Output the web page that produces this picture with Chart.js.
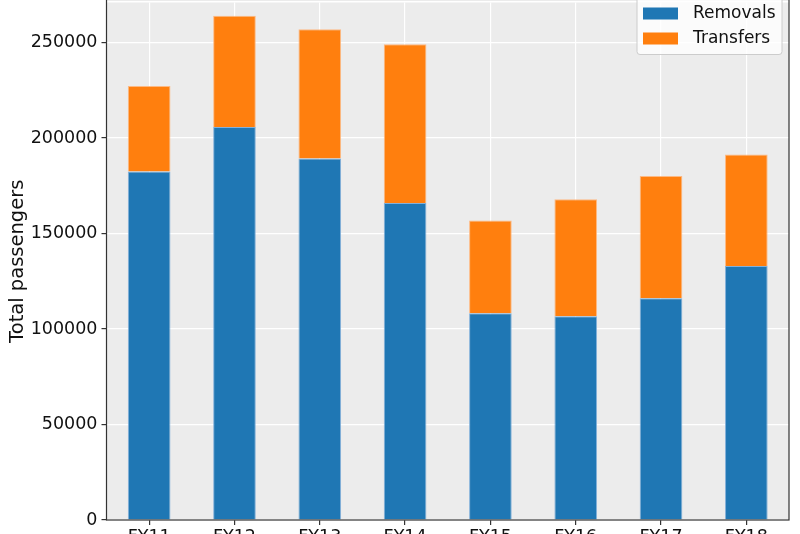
<!DOCTYPE html>
<html>
<head>
<meta charset="utf-8">
<script src="https://cdn.jsdelivr.net/npm/chart.js@4.4.0/dist/chart.umd.min.js"></script>
<style>
  html, body { margin: 0; padding: 0; background: #fff; overflow: hidden; width: 800px; height: 534px; }
  #wrap { position: absolute; left: 0; top: -12px; width: 800px; height: 572px; }
</style>
</head>
<body>
<div id="wrap"><canvas id="chart" width="800" height="572"></canvas></div>
<script>
var years = ["FY11", "FY12", "FY13", "FY14", "FY15", "FY16", "FY17", "FY18"];
var removals = [182500, 205800, 189300, 166000, 108300, 106700, 116100, 133000];
var transfers = [44800, 58200, 67700, 83100, 48500, 61300, 64100, 58400];
var yTicks = [0, 50000, 100000, 150000, 200000, 250000];

var FONT = "'DejaVu Sans', sans-serif";

// grey panel + dark frame, like the matplotlib axes
var panel = {
  id: 'panel',
  beforeDraw: function (chart) {
    var a = chart.chartArea, c = chart.ctx;
    c.save();
    c.fillStyle = '#ececec';
    c.fillRect(a.left, a.top, a.right - a.left, a.bottom - a.top);
    c.restore();
  },
  afterDraw: function (chart) {
    var a = chart.chartArea, c = chart.ctx;
    c.save();
    c.strokeStyle = '#333';
    c.lineWidth = 1.2;
    c.strokeRect(a.left, a.top - 3, a.right - a.left, a.bottom - a.top + 3);
    // legend box in the upper right
    var x = a.right - 152, y = a.top - 8, w = 145, h = 60;
    c.fillStyle = 'rgba(255,255,255,0.8)';
    c.strokeStyle = '#cccccc';
    c.lineWidth = 1;
    c.beginPath();
    c.roundRect(x, y, w, h, 3);
    c.fill();
    c.stroke();
    var ds = chart.data.datasets;
    c.font = '17px ' + FONT;
    c.textBaseline = 'middle';
    for (var i = 0; i < ds.length; i++) {
      var cy = a.top + 11 + i * 25;
      c.fillStyle = ds[i].backgroundColor;
      c.fillRect(x + 6, cy - 6, 35, 12);
      c.fillStyle = '#111';
      c.fillText(ds[i].label, x + 56, cy);
    }
    c.restore();
  }
};

var ctx = document.getElementById('chart').getContext('2d');
var myChart = new Chart(ctx, {
  type: 'bar',
  data: {
    labels: years,
    datasets: [{
        label: 'Removals',
        data: removals,
        backgroundColor: '#1f77b4',
        borderColor: 'rgba(120,170,215,0.9)',
        borderWidth: 1,
      },
      {
        label: 'Transfers',
        data: transfers,
        backgroundColor: '#ff7f0e',
        borderColor: 'rgba(255,180,120,0.9)',
        borderWidth: 1,
      }
    ]
  },
  plugins: [panel],
  options: {
    responsive: false,
    animation: false,
    categoryPercentage: 1,
    barPercentage: 0.5,
    layout: { padding: { left: 0, right: 11, top: 0, bottom: 0 } },
    plugins: {
      legend: { display: false },
      tooltip: { enabled: false }
    },
    scales: {
      x: {
        stacked: true,
        offset: true,
        grid: { offset: false, color: '#ffffff', lineWidth: 1.2, tickColor: '#333', tickLength: 5 },
        border: { display: false },
        ticks: { color: '#111', font: { family: FONT, size: 17.5 }, padding: 2 },
        afterFit: function (s) { s.height = 40; }
      },
      y: {
        stacked: true,
        min: 0,
        max: 271000,
        afterBuildTicks: function (s) { s.ticks = yTicks.map(function (v) { return { value: v }; }); },
        grid: { color: '#ffffff', lineWidth: 1.2, tickColor: '#333', tickLength: 5 },
        border: { display: false },
        ticks: {
          color: '#111', font: { family: FONT, size: 17.5 }, padding: 4,
          callback: function (v) { return String(v); }
        },
        title: { display: true, text: 'Total passengers', color: '#111', font: { family: FONT, size: 19.5 }, padding: { top: 6, bottom: 0 } },
        afterFit: function (s) { s.width = 106.5; }
      }
    }
  }
});
</script>
</body>
</html>
